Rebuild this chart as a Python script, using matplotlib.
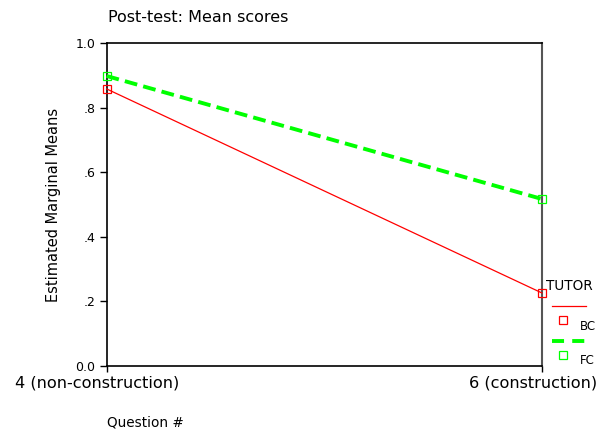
import matplotlib.pyplot as plt
from matplotlib.lines import Line2D

# --- data ---
questions = ["4 (non-construction)", "6 (construction)"]
bc_means = [0.858, 0.226]
fc_means = [0.898, 0.517]
y_ticks = [0.0, 0.2, 0.4, 0.6, 0.8, 1.0]
y_labels = ["0.0", ".2", ".4", ".6", ".8", "1.0"]

red = "#ff0000"
green = "#00ff00"
dash = (0, (3.3, 1.6))

fig = plt.figure(figsize=(6.09, 4.32), dpi=100)
ax = fig.add_axes([106.5 / 609, 1 - 366 / 432, (542 - 106.5) / 609, (366 - 43) / 432])

xpos = list(range(len(questions)))
ax.plot(xpos, bc_means, color=red, lw=0.9, marker="s", ms=6,
        mfc="none", mec=red, mew=0.9, clip_on=False, zorder=3)
ax.plot(xpos, fc_means, color=green, lw=2.8, ls=dash, marker="s", ms=6,
        mfc="none", mec=green, mew=0.9, clip_on=False, zorder=3)

ax.set_xlim(0, 1)
ax.set_ylim(0, 1)
ax.set_xticks(xpos)
ax.set_xticklabels([])
# category labels sit a little left of their ticks, as in the SPSS output
for p, q in zip(xpos, questions):
    ax.annotate(q, xy=(p, 0), xycoords=("data", "axes fraction"),
                xytext=(-9, -9), textcoords="offset pixels",
                ha="center", va="top", fontsize=11.6, annotation_clip=False)
ax.set_yticks(y_ticks)
ax.set_yticklabels(y_labels, fontsize=9)
ax.tick_params(axis="y", length=5, width=1, pad=3)
ax.tick_params(axis="x", length=4, width=1, pad=3)

for s in ["left", "bottom", "top"]:
    ax.spines[s].set_color("black")
    ax.spines[s].set_linewidth(1.2)
ax.spines["right"].set_color("#555555")
ax.spines["right"].set_linewidth(1.5)

ax.set_ylabel("Estimated Marginal Means", fontsize=10.5, labelpad=10)
fig.text(107 / 609, 1 - 423 / 432, "Question #", fontsize=9.8, va="center", ha="left")
fig.text(108 / 609, 1 - 18 / 432, "Post-test: Mean scores", fontsize=11.5, va="center", ha="left")

# --- legend drawn by hand (SPSS style) ---
def fx(px):
    return px / 609

def fy(py):
    return 1 - py / 432

fig.text(fx(546), fy(286), "TUTOR", fontsize=9.8, va="center", ha="left")
fig.add_artist(Line2D([fx(552), fx(586)], [fy(306), fy(306)], color=red, lw=0.9))
fig.add_artist(Line2D([fx(563)], [fy(320)], color=red, marker="s", ms=5.5,
                      mfc="none", mec=red, mew=0.9, ls="none"))
fig.text(fx(580), fy(327), "BC", fontsize=8.5, va="center", ha="left")
fig.add_artist(Line2D([fx(552), fx(586)], [fy(341), fy(341)], color=green, lw=2.8,
                      ls=(0, (3.1, 2.1))))
fig.add_artist(Line2D([fx(563)], [fy(355)], color=green, marker="s", ms=5.5,
                      mfc="none", mec=green, mew=0.9, ls="none"))
fig.text(fx(580), fy(361), "FC", fontsize=8.5, va="center", ha="left")

fig.savefig("out.png", dpi=100)
